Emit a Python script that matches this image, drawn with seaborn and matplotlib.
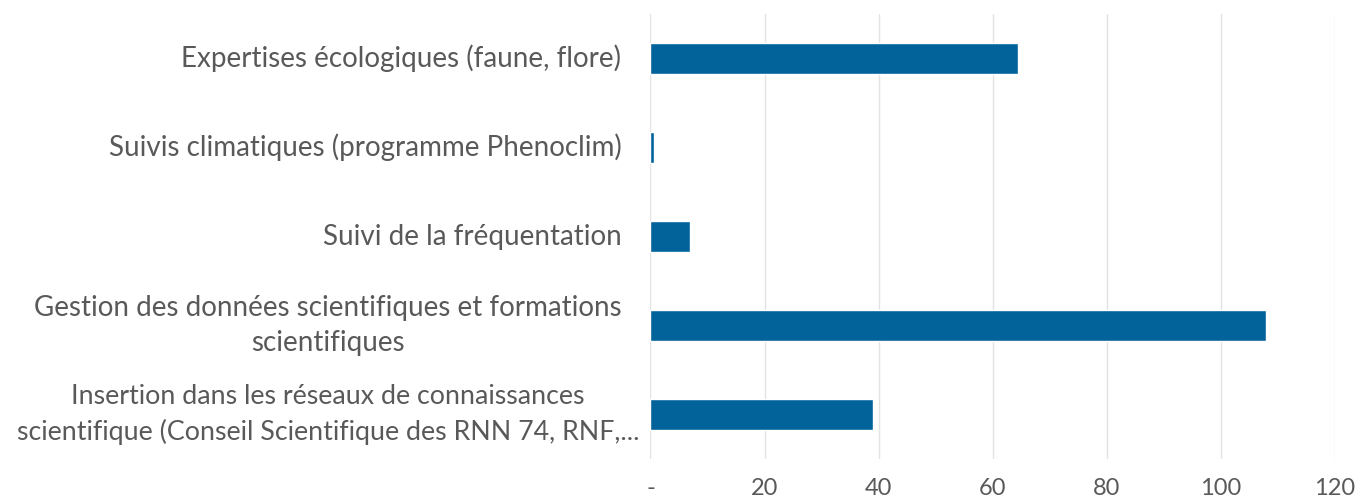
import pandas as pd
import matplotlib.pyplot as plt
import matplotlib.transforms as mtransforms
import seaborn as sns

# chart data
categories = [
    'Expertises écologiques (faune, flore)',
    'Suivis climatiques (programme Phenoclim)',
    'Suivi de la fréquentation',
    'Gestion des données scientifiques et formations\nscientifiques',
    'Insertion dans les réseaux de connaissances\nscientifique (Conseil Scientifique des RNN 74, RNF,...',
]
values = [64.5, 0.7, 7, 108, 39]
x_ticks = [0, 20, 40, 60, 80, 100, 120]
x_labels = ['-', '20', '40', '60', '80', '100', '120']

df = pd.DataFrame({'category': categories, 'value': values})

sns.set_theme(style='white')
plt.rcParams['font.family'] = ['Lato', 'DejaVu Sans']

fig = plt.figure(figsize=(13.58, 5), dpi=100)
ax = fig.add_axes([0.479, 0.082, 0.504, 0.89])

sns.barplot(data=df, x='value', y='category', color='#02639b', width=0.34,
            saturation=1, ax=ax, zorder=3)

ax.set_xlim(0, 120)
ax.set_xticks(x_ticks)
ax.set_xticklabels(x_labels, fontsize=17, color='#595959')
ax.tick_params(axis='x', length=0, pad=14)
ax.tick_params(axis='y', length=0, pad=21)
ylabels = ax.get_yticklabels()
for lbl in ylabels:
    lbl.set_fontsize(20)
    lbl.set_color('#595959')
    lbl.set_multialignment('center')
    lbl.set_linespacing(1.45)
    lbl.set_verticalalignment('center')

# the long last label overflows its box in the original, nudge it right a bit
ylabels[-1].set_fontsize(19.3)
ylabels[-1].set_transform(ylabels[-1].get_transform() +
                          mtransforms.ScaledTranslation(0.18, 0, fig.dpi_scale_trans))

ax.grid(axis='x', color='#e3e3e3', linewidth=1, zorder=0)
for s in ax.spines.values():
    s.set_visible(False)
ax.set_xlabel('')
ax.set_ylabel('')

plt.savefig('out.png', dpi=100)
